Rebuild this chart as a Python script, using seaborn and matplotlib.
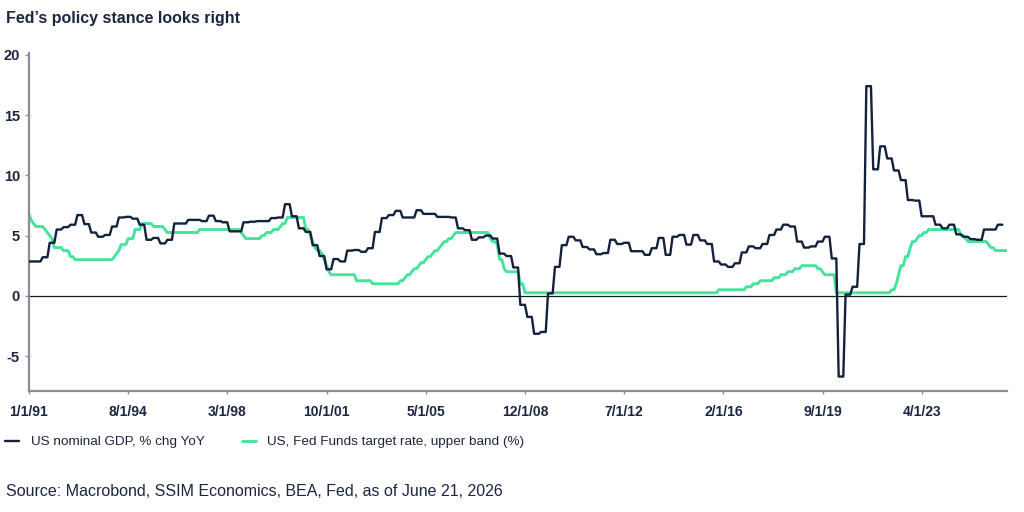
import numpy as np
import pandas as pd
import matplotlib
matplotlib.use("Agg")
import matplotlib.pyplot as plt
import seaborn as sns

# --- data ---
# US nominal GDP, % chg YoY, quarterly 1991Q1 .. 2026Q1
gdp_yoy = [
    2.85, 2.85, 3.2, 4.4,      # 1991
    5.5, 5.7, 5.9, 6.7,        # 1992
    5.95, 5.25, 4.9, 5.05,     # 1993
    5.75, 6.5, 6.55, 6.4,      # 1994
    5.9, 4.65, 4.8, 4.35,      # 1995
    4.65, 6.0, 6.0, 6.3,       # 1996
    6.3, 6.2, 6.65, 6.2,       # 1997
    6.1, 5.35, 5.35, 6.1,      # 1998
    6.15, 6.2, 6.2, 6.45,      # 1999
    6.5, 7.6, 6.6, 5.6,        # 2000
    5.3, 4.2, 3.3, 2.2,        # 2001
    3.05, 2.85, 3.75, 3.8,     # 2002
    3.65, 3.95, 5.3, 6.45,     # 2003
    6.7, 7.05, 6.5, 6.5,       # 2004
    7.1, 6.8, 6.8, 6.55,       # 2005
    6.55, 6.5, 5.6, 5.45,      # 2006
    4.65, 4.85, 5.0, 4.75,     # 2007
    3.5, 3.3, 2.35, -0.75,     # 2008
    -1.75, -3.15, -3.0, 0.2,   # 2009
    2.4, 4.2, 4.9, 4.6,        # 2010
    4.05, 3.85, 3.45, 3.55,    # 2011
    4.65, 4.3, 4.4, 3.7,       # 2012
    3.7, 3.4, 3.95, 4.8,       # 2013
    3.4, 4.9, 5.05, 4.25,      # 2014
    5.05, 4.6, 4.3, 2.85,      # 2015
    2.6, 2.4, 2.7, 3.6,        # 2016
    4.1, 3.95, 4.3, 5.05,      # 2017
    5.5, 5.9, 5.75, 4.5,       # 2018
    4.0, 4.1, 4.5, 4.9,        # 2019
    3.1, -6.7, 0.1, 0.75,      # 2020
    4.3, 17.4, 10.5, 12.4,     # 2021
    11.4, 10.4, 9.6, 7.95,     # 2022
    7.9, 6.6, 6.6, 5.9,        # 2023
    5.6, 5.9, 5.1, 4.9,        # 2024
    4.7, 4.65, 5.5, 5.5,       # 2025
    5.9,                       # 2026
]

# Fed Funds target rate (upper band): month of change -> new level
fed_change_months = [
    "1991-01", "1991-02", "1991-03", "1991-04", "1991-08", "1991-09", "1991-10",
    "1991-11", "1991-12", "1992-04", "1992-07", "1992-09", "1994-02", "1994-03",
    "1994-04", "1994-05", "1994-08", "1994-11", "1995-02", "1995-07", "1995-12",
    "1996-01", "1997-03", "1998-09", "1998-10", "1998-11", "1999-06", "1999-08",
    "1999-11", "2000-02", "2000-03", "2000-05", "2001-01", "2001-03", "2001-04",
    "2001-05", "2001-06", "2001-08", "2001-09", "2001-10", "2001-11", "2001-12",
    "2002-11", "2003-06", "2004-06", "2004-08", "2004-09", "2004-11", "2004-12",
    "2005-02", "2005-03", "2005-05", "2005-06", "2005-08", "2005-09", "2005-11",
    "2005-12", "2006-01", "2006-03", "2006-05", "2006-06", "2007-09", "2007-10",
    "2007-12", "2008-01", "2008-03", "2008-04", "2008-10", "2008-12", "2015-12",
    "2016-12", "2017-03", "2017-06", "2017-12", "2018-03", "2018-06", "2018-09",
    "2018-12", "2019-07", "2019-09", "2019-10", "2020-03", "2022-03", "2022-05",
    "2022-06", "2022-07", "2022-09", "2022-11", "2022-12", "2023-02", "2023-03",
    "2023-05", "2023-07", "2024-09", "2024-11", "2024-12", "2025-09", "2025-10",
    "2025-12",
]
fed_levels = [
    6.75, 6.25, 6.0, 5.75, 5.5, 5.25, 5.0,
    4.75, 4.0, 3.75, 3.25, 3.0, 3.25, 3.5,
    3.75, 4.25, 4.75, 5.5, 6.0, 5.75, 5.5,
    5.25, 5.5, 5.25, 5.0, 4.75, 5.0, 5.25,
    5.5, 5.75, 6.0, 6.5, 5.5, 5.0, 4.5,
    4.0, 3.75, 3.5, 3.0, 2.5, 2.0, 1.75,
    1.25, 1.0, 1.25, 1.5, 1.75, 2.0, 2.25,
    2.5, 2.75, 3.0, 3.25, 3.5, 3.75, 4.0,
    4.25, 4.5, 4.75, 5.0, 5.25, 4.75, 4.5,
    4.25, 3.0, 2.25, 2.0, 1.0, 0.25, 0.5,
    0.75, 1.0, 1.25, 1.5, 1.75, 2.0, 2.25,
    2.5, 2.25, 2.0, 1.75, 0.25, 0.5, 1.0,
    1.75, 2.5, 3.25, 4.0, 4.5, 4.75, 5.0,
    5.25, 5.5, 5.0, 4.75, 4.5, 4.25, 4.0,
    3.75,
]
fed_last_month = "2026-05"

tick_labels = ["1/1/91", "8/1/94", "3/1/98", "10/1/01", "5/1/05",
               "12/1/08", "7/1/12", "2/1/16", "9/1/19", "4/1/23"]
y_ticks = [-5, 0, 5, 10, 15, 20]

# --- build monthly series ---
gdp_dates = pd.date_range("1991-01-01", periods=len(gdp_yoy) * 3, freq="MS")
gdp = pd.DataFrame({"date": gdp_dates, "value": np.repeat(gdp_yoy, 3)})

fed_dates = pd.date_range("1991-01-01", fed_last_month + "-01", freq="MS")
fed_s = pd.Series(fed_levels, index=pd.to_datetime([m + "-01" for m in fed_change_months]))
fed = pd.DataFrame({"date": fed_dates, "value": fed_s.reindex(fed_dates, method="ffill").values})

# --- style ---
navy = "#14213d"
green = "#45e39c"
text_col = "#1c2541"
sns.set_style("white")
plt.rcParams["font.family"] = ["Liberation Sans", "DejaVu Sans"]

fig = plt.figure(figsize=(10.24, 5.12), dpi=100)
ax = fig.add_axes([29 / 1024, 1 - 391 / 512, (1007 - 29) / 1024, (391 - 53) / 512])

ax.axhline(0, color="#111827", lw=0.9, zorder=1)
sns.lineplot(data=gdp, x="date", y="value", ax=ax, color=navy, lw=1.7,
             label="US nominal GDP, % chg YoY", zorder=3)
sns.lineplot(data=fed, x="date", y="value", ax=ax, color=green, lw=2.1,
             label="US, Fed Funds target rate, upper band (%)", zorder=2)

ax.set_xlim(fed_dates[0], fed_dates[-1])
ax.set_ylim(-7.9, 20.15)
ax.set_xlabel("")
ax.set_ylabel("")

tick_dates = pd.to_datetime(tick_labels, format="%m/%d/%y")
ax.set_xticks(tick_dates)
ax.set_xticklabels(tick_labels)
ax.set_yticks(y_ticks)
ax.set_yticklabels([str(v) for v in y_ticks])

for side in ["top", "right"]:
    ax.spines[side].set_visible(False)
for side in ["left", "bottom"]:
    ax.spines[side].set_color("#8a8d93")
    ax.spines[side].set_linewidth(1.6)

ax.tick_params(axis="y", length=3, width=1, color="#8a8d93", pad=3.5,
               labelsize=10.5, labelcolor=text_col, left=True)
ax.tick_params(axis="x", length=2, width=1, color="#8a8d93", pad=8,
               labelsize=10, labelcolor=text_col, bottom=True)
for lab in ax.get_xticklabels() + ax.get_yticklabels():
    lab.set_fontweight("bold")

# legend below the plot
handles, labels = ax.get_legend_handles_labels()
ax.get_legend().remove()
fig.legend(handles, labels, loc="center left", bbox_to_anchor=(5 / 1024, 1 - 442 / 512),
           ncol=2, frameon=False, fontsize=9.7, handlelength=1.05, handletextpad=0.85,
           columnspacing=2.75, labelcolor=text_col, borderpad=0, borderaxespad=0)

fig.text(6 / 1024, 1 - 19 / 512, "Fed\u2019s policy stance looks right",
         fontsize=11.5, fontweight="bold", color=text_col, va="center", ha="left")
fig.text(6 / 1024, 1 - 492 / 512, "Source: Macrobond, SSIM Economics, BEA, Fed, as of June 21, 2026",
         fontsize=11.5, color=text_col, va="center", ha="left")

fig.savefig("out.png", dpi=100)
